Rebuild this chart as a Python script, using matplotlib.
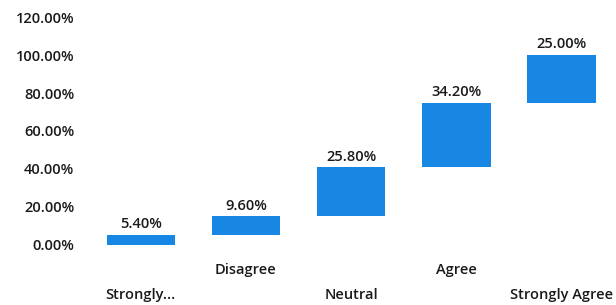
import matplotlib
matplotlib.use("Agg")
import matplotlib.pyplot as plt
import numpy as np

plt.rcParams["font.family"] = ["Open Sans", "DejaVu Sans"]

categories = ["Strongly...", "Disagree", "Neutral", "Agree", "Strongly Agree"]
values = [5.40, 9.60, 25.80, 34.20, 25.00]  # percent
yticks = [0, 20, 40, 60, 80, 100, 120]

bottoms = np.concatenate([[0], np.cumsum(values)[:-1]])
x = np.arange(len(categories))

fig = plt.figure(figsize=(6.16, 3.05), dpi=100)
ax = fig.add_axes([0.143, 0.197, 0.854, 0.747])

ax.bar(x, values, bottom=bottoms, width=0.65, color="#1887e3")
for xi, b, v in zip(x, bottoms, values):
    ax.text(xi, b + v + 2.0, f"{v:.2f}%", ha="center", va="bottom",
            fontsize=10.5, fontweight="semibold", color="#1a1a1a")

ax.set_xlim(-0.5, len(categories) - 0.5)
ax.set_ylim(0, 120)
ax.set_yticks(yticks)
ax.set_yticklabels([f"{t:.2f}%" for t in yticks], fontsize=10.5,
                   fontweight="semibold", color="#1a1a1a")
ax.set_xticks(x)
ax.set_xticklabels(categories, fontsize=10.5, fontweight="semibold", color="#1a1a1a")

# staggered category labels like Excel does when they don't fit
for i, tick in enumerate(ax.xaxis.get_major_ticks()):
    tick.set_pad(13 if i % 2 else 31)

ax.tick_params(length=0)
ax.tick_params(axis="y", pad=10)
for sp in ax.spines.values():
    sp.set_visible(False)

fig.savefig("out.png", dpi=100)
plt.close(fig)
